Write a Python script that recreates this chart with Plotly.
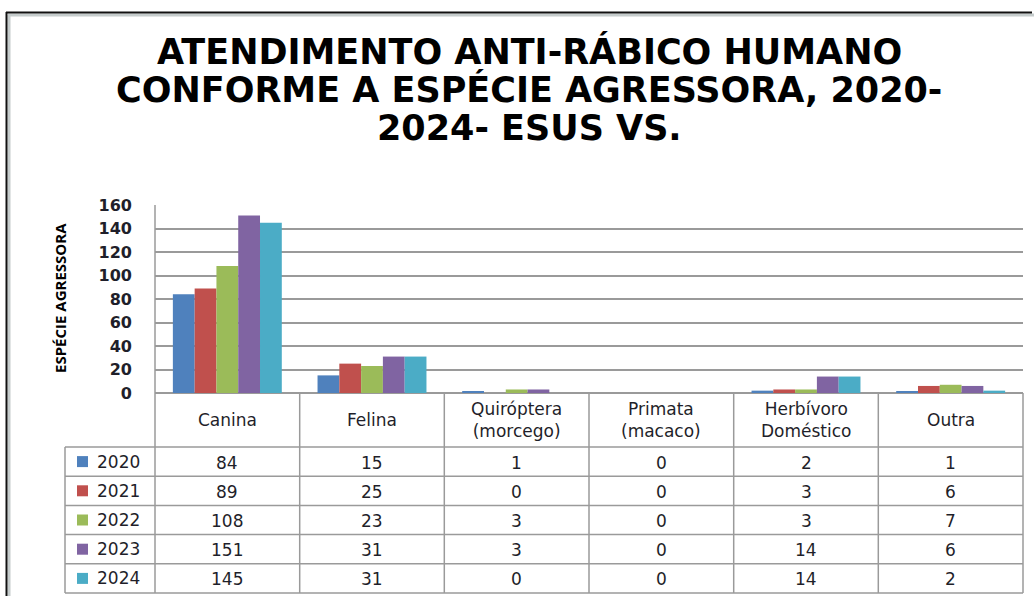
import plotly.graph_objects as go

categories = ["Canina", "Felina", "Quiróptera (morcego)", "Primata (macaco)", "Herbívoro Doméstico", "Outra"]
header_labels = ["Canina", "Felina", "Quiróptera<br>(morcego)", "Primata<br>(macaco)", "Herbívoro<br>Doméstico", "Outra"]
years = ["2020", "2021", "2022", "2023", "2024"]
v2020 = [84, 15, 1, 0, 2, 1]
v2021 = [89, 25, 0, 0, 3, 6]
v2022 = [108, 23, 3, 0, 3, 7]
v2023 = [151, 31, 3, 0, 14, 6]
v2024 = [145, 31, 0, 0, 14, 2]
series = [v2020, v2021, v2022, v2023, v2024]
colors = ["#4F81BD", "#C0504D", "#9BBB59", "#8064A2", "#4BACC6"]
y_ticks = [0, 20, 40, 60, 80, 100, 120, 140, 160]
title_lines = ["ATENDIMENTO ANTI-RÁBICO HUMANO", "CONFORME A ESPÉCIE AGRESSORA, 2020-", "2024- ESUS VS."]

W, H = 1034, 596
L, R, T, B = 155, 1023, 205, 393


def xp(px):
    return (px - L) / (R - L)


def yp(py):
    return (B - py) / (B - T)


fig = go.Figure()
for yr, vals, c in zip(years, series, colors):
    fig.add_trace(go.Bar(x=list(range(len(categories))), y=vals, name=yr,
                         marker=dict(color=c, line=dict(width=0)), showlegend=False))

shapes = []
grid_col = "#9a9a9a"
col_edges = [155, 299.7, 444.3, 589, 733.7, 878.3, 1023]
row_edges = [447, 476.2, 505.4, 534.6, 563.8, 593]
leg_left = 65
for i, xe in enumerate(col_edges):
    top = T if i == 0 else B
    shapes.append(dict(type="line", xref="paper", yref="paper", x0=xp(xe), x1=xp(xe),
                       y0=yp(top), y1=yp(row_edges[-1]), line=dict(color=grid_col, width=1.5)))
shapes.append(dict(type="line", xref="paper", yref="paper", x0=xp(leg_left), x1=xp(leg_left),
                   y0=yp(row_edges[0]), y1=yp(row_edges[-1]), line=dict(color=grid_col, width=1.5)))
for re_ in row_edges:
    shapes.append(dict(type="line", xref="paper", yref="paper", x0=xp(leg_left), x1=xp(R),
                       y0=yp(re_), y1=yp(re_), line=dict(color=grid_col, width=1.5)))
# outer frame
shapes.append(dict(type="line", xref="paper", yref="paper", x0=xp(8), x1=xp(1034),
                   y0=yp(15), y1=yp(15), line=dict(color="#c5cccc", width=3)))
shapes.append(dict(type="line", xref="paper", yref="paper", x0=xp(9), x1=xp(9),
                   y0=yp(15), y1=yp(596), line=dict(color="#c5cccc", width=3)))
shapes.append(dict(type="line", xref="paper", yref="paper", x0=xp(6), x1=xp(1032),
                   y0=yp(12.5), y1=yp(12.5), line=dict(color="#111111", width=2)))
shapes.append(dict(type="line", xref="paper", yref="paper", x0=xp(6.5), x1=xp(6.5),
                   y0=yp(12), y1=yp(596), line=dict(color="#111111", width=2)))

annotations = []
tfont = dict(family="DejaVu Sans, Verdana, sans-serif", size=17, color="#1f1f2a")
for i, lab in enumerate(header_labels):
    cx = (col_edges[i] + col_edges[i + 1]) / 2
    annotations.append(dict(xref="paper", yref="paper", x=xp(cx), y=yp(420), text=lab,
                            showarrow=False, xanchor="center", yanchor="middle", font=tfont))
for r, (yr, vals, c) in enumerate(zip(years, series, colors)):
    cy = (row_edges[r] + row_edges[r + 1]) / 2
    shapes.append(dict(type="rect", xref="paper", yref="paper", x0=xp(77), x1=xp(88),
                       y0=yp(cy - 5.5), y1=yp(cy + 5.5), fillcolor=c, line=dict(width=0)))
    annotations.append(dict(xref="paper", yref="paper", x=xp(95), y=yp(cy), text=yr,
                            showarrow=False, xanchor="left", yanchor="middle", font=tfont))
    for i, v in enumerate(vals):
        cx = (col_edges[i] + col_edges[i + 1]) / 2
        annotations.append(dict(xref="paper", yref="paper", x=xp(cx), y=yp(cy + 1), text=str(v),
                                showarrow=False, xanchor="center", yanchor="middle", font=tfont))
# title lines
for ty, line in zip([51, 89, 128], title_lines):
    annotations.append(dict(xref="paper", yref="paper", x=xp(529), y=yp(ty), text=line,
                            showarrow=False, xanchor="center", yanchor="middle",
                            font=dict(family="DejaVu Sans, sans-serif", size=35, color="#000000",
                                      weight="bold")))
# y-axis title
annotations.append(dict(xref="paper", yref="paper", x=xp(60), y=yp(298), text="<b>ESPÉCIE AGRESSORA</b>",
                        textangle=-90, showarrow=False, xanchor="center", yanchor="middle",
                        font=dict(family="Liberation Sans Narrow, Arial Narrow, Open Sans, sans-serif",
                                  size=15, color="#000000")))

fig.update_layout(
    width=W, height=H,
    margin=dict(l=L, r=W - R, t=T, b=H - B, pad=0),
    paper_bgcolor="white", plot_bgcolor="white",
    barmode="group", bargap=0.247, bargroupgap=0,
    xaxis=dict(range=[-0.5, 5.5], showticklabels=False, ticks="", showgrid=False, zeroline=False,
               showline=False),
    yaxis=dict(range=[0, 160], tickvals=y_ticks, showgrid=True, gridcolor=grid_col, gridwidth=1.5,
               zeroline=True, zerolinecolor=grid_col, zerolinewidth=1.5, showline=False,
               ticks="", ticklabelstandoff=22,
               tickfont=dict(family="DejaVu Sans, Verdana, sans-serif", size=16, color="#1f1f2a", weight="bold")),
    shapes=shapes, annotations=annotations,
)
fig.write_html("out.html", config={"displayModeBar": False},
               post_script="document.body.style.margin='0';document.body.style.padding='0';")
